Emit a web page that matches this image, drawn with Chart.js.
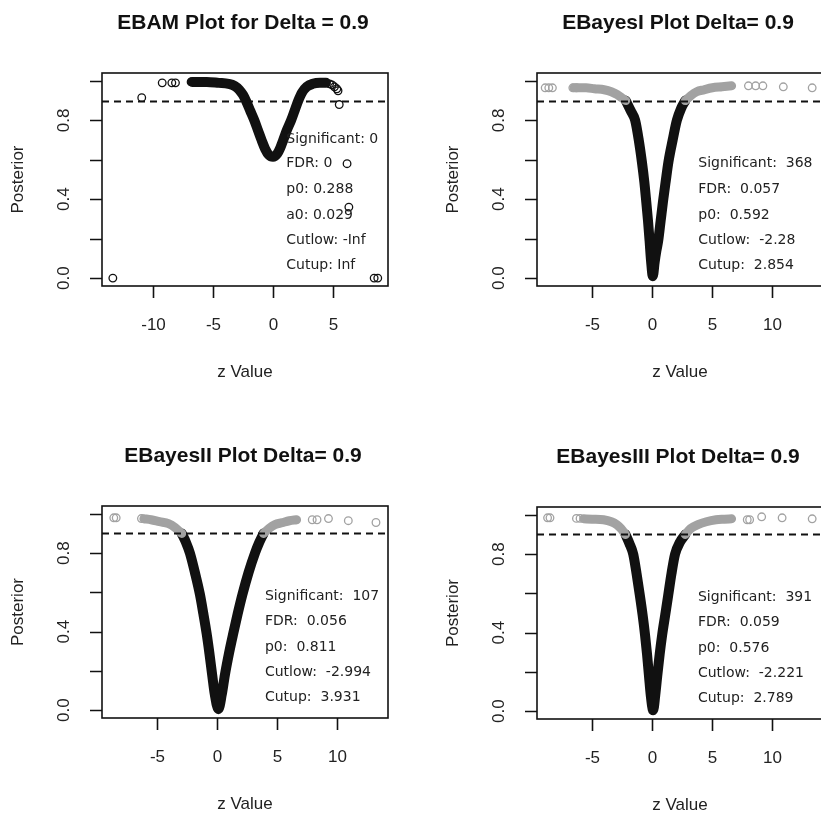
<!DOCTYPE html>
<html>
<head>
<meta charset="utf-8">
<script src="https://cdn.jsdelivr.net/npm/chart.js@4.4.1/dist/chart.umd.min.js"></script>
<style>
  html, body { margin: 0; padding: 0; background: #fff; overflow: hidden; }
  body { width: 821px; height: 816px; position: relative; }
  canvas { position: absolute; }
</style>
</head>
<body>
<canvas id="ebam" width="410" height="410" style="left:0;top:0"></canvas>
<canvas id="ebayes1" width="440" height="410" style="left:410px;top:0"></canvas>
<canvas id="ebayes2" width="410" height="406" style="left:0;top:410px"></canvas>
<canvas id="ebayes3" width="440" height="406" style="left:410px;top:410px"></canvas>
<script>
// posterior probability vs z value
const DELTA = 0.9;
const yTicks = [0, 0.2, 0.4, 0.6, 0.8, 1.0];
const yTickLabels = { 0: '0.0', 0.4: '0.4', 0.8: '0.8' };

// EBAM
const ebamBandZ = [-6.7, -5.5, -4.5, -3.7, -3.2, -2.8, -2.5, -2.25, -1.9, -1.55, -1.25, -0.95, -0.65, -0.35, 0, 0.35, 0.6, 0.85, 1.15, 1.5, 1.8, 2.1, 2.4, 2.8, 3.3, 3.9, 4.4];
const ebamBandP = [0.995, 0.995, 0.99, 0.985, 0.975, 0.955, 0.93, 0.9, 0.85, 0.8, 0.75, 0.7, 0.655, 0.625, 0.615, 0.63, 0.66, 0.7, 0.75, 0.8, 0.85, 0.9, 0.94, 0.97, 0.985, 0.99, 0.99];
const ebamPtZ = [-13.3, -10.9, -9.2, -8.4, -8.1, -6.8, 4.7, 4.9, 5.1, 5.3, 5.4, 5.5, 6.15, 6.3, 8.4, 8.7];
const ebamPtP = [0.0, 0.915, 0.99, 0.99, 0.99, 0.995, 0.985, 0.98, 0.97, 0.96, 0.95, 0.88, 0.58, 0.36, 0.0, 0.0];
const ebamXTicks = [-10, -5, 0, 5];
const ebamText = ['Significant: 0', 'FDR: 0', 'p0: 0.288', 'a0: 0.029', 'Cutlow: -Inf', 'Cutup: Inf'];

// EBayesI
const eb1SigZ = [-2.2, -1.8, -1.42, -1.12, -0.86, -0.66, -0.5, -0.35, -0.22, -0.1, 0.05, 0.2, 0.35, 0.5, 0.7, 0.9, 1.12, 1.35, 1.7, 2.05, 2.4, 2.75];
const eb1SigP = [0.9, 0.85, 0.8, 0.7, 0.59, 0.49, 0.39, 0.29, 0.19, 0.09, 0.01, 0.08, 0.14, 0.19, 0.29, 0.39, 0.49, 0.59, 0.7, 0.8, 0.86, 0.9];
const eb1LowZ = [-6.5, -5.5, -4.8, -4.0, -3.4, -2.9, -2.55, -2.2];
const eb1LowP = [0.965, 0.965, 0.96, 0.955, 0.945, 0.93, 0.915, 0.9];
const eb1HighZ = [2.75, 3.2, 3.7, 4.3, 5.0, 5.8, 6.6];
const eb1HighP = [0.9, 0.925, 0.945, 0.955, 0.965, 0.97, 0.975];
const eb1PtZ = [-8.9, -8.6, -8.3, -6.6, -6.3, 8.0, 8.6, 9.2, 10.9, 13.3];
const eb1PtP = [0.965, 0.965, 0.965, 0.965, 0.965, 0.975, 0.975, 0.975, 0.97, 0.965];
const eb1Text = ['Significant:  368', 'FDR:  0.057', 'p0:  0.592', 'Cutlow:  -2.28', 'Cutup:  2.854'];

// EBayesII
const eb2SigZ = [-2.95, -2.6, -2.27, -1.85, -1.44, -1.15, -0.88, -0.65, -0.42, -0.2, 0.1, 0.38, 0.64, 0.98, 1.33, 1.7, 2.1, 2.6, 3.14, 3.5, 3.85];
const eb2SigP = [0.9, 0.855, 0.8, 0.7, 0.59, 0.49, 0.39, 0.29, 0.18, 0.08, 0.005, 0.08, 0.18, 0.29, 0.39, 0.49, 0.59, 0.7, 0.8, 0.855, 0.9];
const eb2LowZ = [-6.1, -5.5, -4.8, -4.05, -3.5, -2.95];
const eb2LowP = [0.975, 0.97, 0.96, 0.95, 0.93, 0.9];
const eb2HighZ = [3.85, 4.3, 4.8, 5.4, 6.0, 6.6];
const eb2HighP = [0.9, 0.925, 0.945, 0.955, 0.965, 0.97];
const eb2PtZ = [-8.6, -8.4, -6.3, 7.9, 8.3, 9.25, 10.9, 13.2];
const eb2PtP = [0.98, 0.98, 0.976, 0.97, 0.97, 0.976, 0.965, 0.956];
const eb2Text = ['Significant:  107', 'FDR:  0.056', 'p0:  0.811', 'Cutlow:  -2.994', 'Cutup:  3.931'];

// EBayesIII
const eb3SigZ = [-2.22, -1.9, -1.58, -1.3, -1.03, -0.8, -0.6, -0.43, -0.27, -0.12, 0.08, 0.25, 0.42, 0.62, 0.83, 1.08, 1.33, 1.6, 1.9, 2.3, 2.75];
const eb3SigP = [0.9, 0.855, 0.8, 0.7, 0.59, 0.49, 0.39, 0.29, 0.18, 0.08, 0.005, 0.08, 0.18, 0.29, 0.39, 0.49, 0.59, 0.7, 0.8, 0.86, 0.9];
const eb3LowZ = [-5.7, -5.0, -4.05, -3.4, -2.95, -2.6, -2.22];
const eb3LowP = [0.98, 0.978, 0.975, 0.965, 0.95, 0.93, 0.9];
const eb3HighZ = [2.75, 3.2, 3.8, 4.5, 5.3, 6.0, 6.6];
const eb3HighP = [0.9, 0.93, 0.95, 0.965, 0.975, 0.978, 0.98];
const eb3PtZ = [-8.7, -8.5, -6.3, -6.0, 7.9, 8.1, 9.1, 10.8, 13.3];
const eb3PtP = [0.985, 0.985, 0.982, 0.982, 0.975, 0.975, 0.99, 0.985, 0.98];
const eb3Text = ['Significant:  391', 'FDR:  0.059', 'p0:  0.576', 'Cutlow:  -2.221', 'Cutup:  2.789'];

const ebXTicks = [-5, 0, 5, 10];
const textRows6 = [0.705, 0.58, 0.45, 0.32, 0.19, 0.065];
const textRows5 = [0.58, 0.45, 0.32, 0.19, 0.065];

const pts = (xs, ys) => xs.map((x, i) => ({ x, y: ys[i] }));

const band = (xs, ys, color, width) => ({
  data: pts(xs, ys), showLine: true, pointRadius: 0,
  borderColor: color, borderWidth: width,
  borderCapStyle: 'round', borderJoinStyle: 'round',
  cubicInterpolationMode: 'monotone'
});
const circles = (xs, ys, color) => ({
  data: pts(xs, ys), showLine: false, pointStyle: 'circle',
  pointRadius: 3.8, pointBorderWidth: 1.3,
  pointBorderColor: color, pointBackgroundColor: 'rgba(0,0,0,0)'
});

// R style frame: box, ticks, labels, titles, cut-off line and text
const rFrame = {
  id: 'rFrame',
  afterDatasetsDraw(chart) {
    const o = chart.options.plugins.rFrame;
    const { ctx, chartArea: a } = chart;
    const x = chart.scales.x, y = chart.scales.y;
    ctx.save();

    ctx.strokeStyle = '#111';
    ctx.lineWidth = 1.8;
    ctx.setLineDash([7, 5]);
    const yd = Math.round(y.getPixelForValue(DELTA)) + 0.5;
    ctx.beginPath(); ctx.moveTo(a.left, yd); ctx.lineTo(a.right, yd); ctx.stroke();
    ctx.setLineDash([]);

    ctx.lineWidth = 1.6;
    ctx.strokeRect(a.left, a.top, a.right - a.left, a.bottom - a.top);

    ctx.fillStyle = '#222';
    ctx.font = '17px "Liberation Sans", Arial, sans-serif';
    ctx.textAlign = 'center';
    ctx.textBaseline = 'middle';
    ctx.beginPath();
    o.xTicks.forEach(t => {
      const px = Math.round(x.getPixelForValue(t)) + 0.5;
      ctx.moveTo(px, a.bottom); ctx.lineTo(px, a.bottom + 12);
      ctx.fillText(String(t), px, a.bottom + 39);
    });
    yTicks.forEach(t => {
      const py = Math.round(y.getPixelForValue(t)) + 0.5;
      ctx.moveTo(a.left - 12, py); ctx.lineTo(a.left, py);
    });
    ctx.stroke();
    yTicks.forEach(t => {
      const lab = yTickLabels[t];
      if (!lab) return;
      ctx.save();
      ctx.translate(a.left - 38, y.getPixelForValue(t));
      ctx.rotate(-Math.PI / 2);
      ctx.fillText(lab, 0, 0);
      ctx.restore();
    });

    const cx = (a.left + a.right) / 2;
    ctx.fillText('z Value', cx, a.bottom + 86);
    ctx.save();
    ctx.translate(a.left - 84, (a.top + a.bottom) / 2);
    ctx.rotate(-Math.PI / 2);
    ctx.fillText('Posterior', 0, 0);
    ctx.restore();

    ctx.fillStyle = '#111';
    ctx.font = 'bold 21px "Liberation Sans", Arial, sans-serif';
    ctx.fillText(o.title, cx - 2, a.top - 50);

    ctx.font = '14px "DejaVu Sans", sans-serif';
    ctx.fillStyle = '#222';
    ctx.textAlign = 'left';
    const tx = x.getPixelForValue(o.textX);
    o.text.forEach((s, i) => ctx.fillText(s, tx, y.getPixelForValue(o.textRows[i])));
    ctx.restore();
  }
};

function makePanel(id, cfg) {
  new Chart(document.getElementById(id), {
    type: 'scatter',
    data: { datasets: cfg.datasets },
    options: {
      responsive: false,
      animation: false,
      events: [],
      layout: { padding: cfg.padding },
      scales: {
        x: { type: 'linear', display: false, min: cfg.xMin, max: cfg.xMax },
        y: { type: 'linear', display: false, min: -0.04, max: 1.04 }
      },
      plugins: {
        legend: { display: false },
        tooltip: { enabled: false },
        rFrame: { title: cfg.title, xTicks: cfg.xTicks, text: cfg.text, textX: cfg.textX, textRows: cfg.textRows }
      }
    },
    plugins: [rFrame]
  });
}

const GRAY = '#d2d2d2', GRAY_EDGE = '#a2a2a2', BLACK = '#111';

makePanel('ebam', {
  title: 'EBAM Plot for Delta = 0.9',
  padding: { left: 102, top: 73, right: 22, bottom: 124 },
  xMin: -14.2, xMax: 9.55, xTicks: ebamXTicks,
  text: ebamText, textX: 1.1, textRows: textRows6,
  datasets: [band(ebamBandZ, ebamBandP, BLACK, 10), circles(ebamPtZ, ebamPtP, BLACK)]
});

const ebPanels = [
  ['ebayes1', 'EBayesI Plot Delta= 0.9', { left: 127, top: 73, right: 27, bottom: 124 },
    [eb1SigZ, eb1SigP, eb1LowZ, eb1LowP, eb1HighZ, eb1HighP, eb1PtZ, eb1PtP], eb1Text, 3.83],
  ['ebayes2', 'EBayesII Plot Delta= 0.9', { left: 102, top: 96, right: 22, bottom: 98 },
    [eb2SigZ, eb2SigP, eb2LowZ, eb2LowP, eb2HighZ, eb2HighP, eb2PtZ, eb2PtP], eb2Text, 3.97],
  ['ebayes3', 'EBayesIII Plot Delta= 0.9', { left: 127, top: 97, right: 27, bottom: 97 },
    [eb3SigZ, eb3SigP, eb3LowZ, eb3LowP, eb3HighZ, eb3HighP, eb3PtZ, eb3PtP], eb3Text, 3.8]
];

ebPanels.forEach(([id, title, padding, d, text, textX]) => {
  makePanel(id, {
    title, padding, xMin: -9.58, xMax: 14.2, xTicks: ebXTicks,
    text, textX, textRows: textRows5,
    datasets: [
      band(d[2], d[3], GRAY_EDGE, 9), band(d[2], d[3], GRAY, 5),
      band(d[4], d[5], GRAY_EDGE, 9), band(d[4], d[5], GRAY, 5),
      circles(d[6], d[7], GRAY_EDGE),
      band(d[0], d[1], BLACK, 10)
    ]
  });
});
</script>
</body>
</html>
